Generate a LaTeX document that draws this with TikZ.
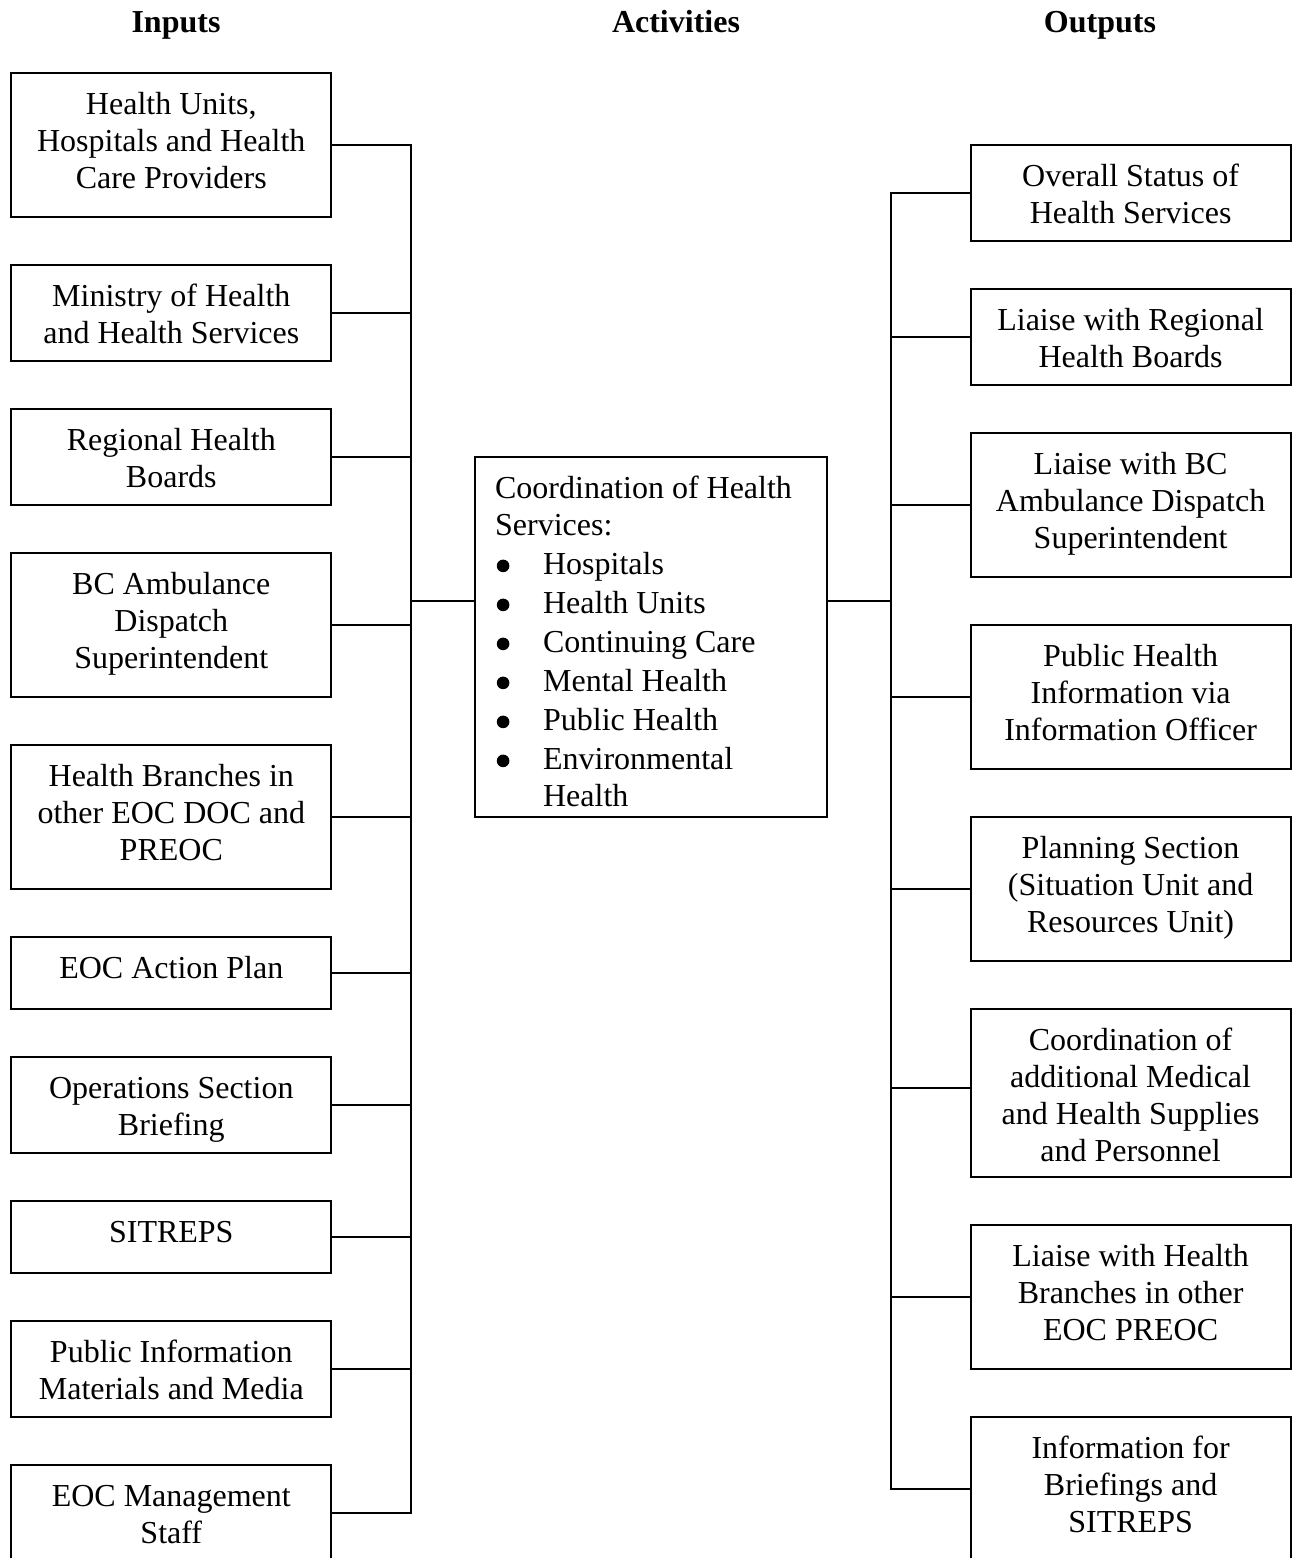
\documentclass[tikz,border=0pt]{standalone}
\usepackage{fontspec}
\setmainfont{Liberation Serif}
% zero-width strut fixing the height of a node's first line
\newcommand\lnstrut{\rule{0pt}{25pt}}
% round list bullet
\newcommand\bul{\hspace*{1.7pt}\tikz[baseline=0pt]\fill (6.3pt,8.4pt) circle[radius=6.3pt];}
% one bulleted entry of the activities list
\newcommand\itm[1]{\makebox[48pt][l]{\bul}#1}
\begin{document}
\begin{tikzpicture}[x=1pt,y=-1pt,
  box/.style={draw, line width=2.2pt, minimum width=320pt, inner sep=0pt},
  txt/.style={align=center, inner sep=0pt, anchor=north,
              font=\fontsize{32}{37}\selectfont},
  head/.style={font=\fontsize{32}{37}\selectfont\bfseries, inner sep=0pt, anchor=base},
  wire/.style={line width=2.2pt}]
\useasboundingbox (0,0) rectangle (1293,1558);

% column headings
\node[head] (hin)  at (176,32.5)  {Inputs};
\node[head] (hact) at (676,32.5)  {Activities};
\node[head] (hout) at (1100,32.5) {Outputs};

% inputs
\node[box, minimum height=144pt] (i1)  at (171.3,144.7) {};
\node[box, minimum height=96pt]  (i2)  at (171.3,313)   {};
\node[box, minimum height=96pt]  (i3)  at (171.3,457)   {};
\node[box, minimum height=144pt] (i4)  at (171.3,625)   {};
\node[box, minimum height=144pt] (i5)  at (171.3,817)   {};
\node[box, minimum height=72pt]  (i6)  at (171.3,973)   {};
\node[box, minimum height=96pt]  (i7)  at (171.3,1105)  {};
\node[box, minimum height=72pt]  (i8)  at (171.3,1237)  {};
\node[box, minimum height=96pt]  (i9)  at (171.3,1369)  {};
\node[box, minimum height=96pt]  (i10) at (171.3,1513)  {};

\node[txt] (ti1)  at ([yshift=-17.5pt]i1.north)  {\lnstrut Health Units,\\Hospitals and Health\\Care Providers};
\node[txt] (ti2)  at ([yshift=-17.5pt]i2.north)  {\lnstrut Ministry of Health\\and Health Services};
\node[txt] (ti3)  at ([yshift=-17.5pt]i3.north)  {\lnstrut Regional Health\\Boards};
\node[txt] (ti4)  at ([yshift=-17.5pt]i4.north)  {\lnstrut BC Ambulance\\Dispatch\\Superintendent};
\node[txt] (ti5)  at ([yshift=-17.5pt]i5.north)  {\lnstrut Health Branches in\\other EOC DOC and\\PREOC};
\node[txt] (ti6)  at ([yshift=-17.5pt]i6.north)  {\lnstrut EOC Action Plan};
\node[txt] (ti7)  at ([yshift=-17.5pt]i7.north)  {\lnstrut Operations Section\\Briefing};
\node[txt] (ti8)  at ([yshift=-17.5pt]i8.north)  {\lnstrut SITREPS};
\node[txt] (ti9)  at ([yshift=-17.5pt]i9.north)  {\lnstrut Public Information\\Materials and Media};
\node[txt] (ti10) at ([yshift=-17.5pt]i10.north) {\lnstrut EOC Management\\Staff};

% activities
\node[box, minimum width=352pt, minimum height=360pt] (act) at (651,636.7) {};
\node[txt, align=left, anchor=north west] (tact) at ([xshift=21pt,yshift=-17.5pt]act.north west)
  {\lnstrut Coordination of Health\\Services:\\[2pt]
   \itm{Hospitals}\\[2pt]
   \itm{Health Units}\\[2pt]
   \itm{Continuing Care}\\[2pt]
   \itm{Mental Health}\\[2pt]
   \itm{Public Health}\\[2pt]
   \itm{Environmental}\\
   \hspace*{48pt}Health};

% outputs
\node[box, minimum height=96pt]  (o1) at (1130.6,193)  {};
\node[box, minimum height=96pt]  (o2) at (1130.6,337)  {};
\node[box, minimum height=144pt] (o3) at (1130.6,505)  {};
\node[box, minimum height=144pt] (o4) at (1130.6,697)  {};
\node[box, minimum height=144pt] (o5) at (1130.6,889)  {};
\node[box, minimum height=168pt] (o6) at (1130.6,1093) {};
\node[box, minimum height=144pt] (o7) at (1130.6,1297) {};
\node[box, minimum height=144pt] (o8) at (1130.6,1489) {};

\node[txt] (to1) at ([yshift=-17.5pt]o1.north) {\lnstrut Overall Status of\\Health Services};
\node[txt] (to2) at ([yshift=-17.5pt]o2.north) {\lnstrut Liaise with Regional\\Health Boards};
\node[txt] (to3) at ([yshift=-17.5pt]o3.north) {\lnstrut Liaise with BC\\Ambulance Dispatch\\Superintendent};
\node[txt] (to4) at ([yshift=-17.5pt]o4.north) {\lnstrut Public Health\\Information via\\Information Officer};
\node[txt] (to5) at ([yshift=-17.5pt]o5.north) {\lnstrut Planning Section\\(Situation Unit and\\Resources Unit)};
\node[txt] (to6) at ([yshift=-17.5pt]o6.north) {\lnstrut Coordination of\\additional Medical\\and Health Supplies\\and Personnel};
\node[txt] (to7) at ([yshift=-17.5pt]o7.north) {\lnstrut Liaise with Health\\Branches in other\\EOC PREOC};
\node[txt] (to8) at ([yshift=-17.5pt]o8.north) {\lnstrut Information for\\Briefings and\\SITREPS};

% collecting buses
\coordinate (lb) at (411,0);
\coordinate (rb) at (891,0);

\draw[wire] (i1.east) -| (lb |- i10.east) -- (i10.east);
\foreach \n in {i2,i3,i4,i5,i6,i7,i8,i9}
  \draw[wire] (\n.east) -- (\n.east -| lb);
\draw[wire] ([yshift=35.7pt]act.west) -- ([yshift=35.7pt]act.west -| lb);

\draw[wire] (o1.west) -| (rb |- o8.west) -- (o8.west);
\foreach \n in {o2,o3,o4,o5,o7}
  \draw[wire] (\n.west) -- (\n.west -| rb);
\draw[wire] ([yshift=5.3pt]o6.west) -- ([yshift=5.3pt]o6.west -| rb);
\draw[wire] ([yshift=35.7pt]act.east) -- ([yshift=35.7pt]act.east -| rb);
\end{tikzpicture}
\end{document}
